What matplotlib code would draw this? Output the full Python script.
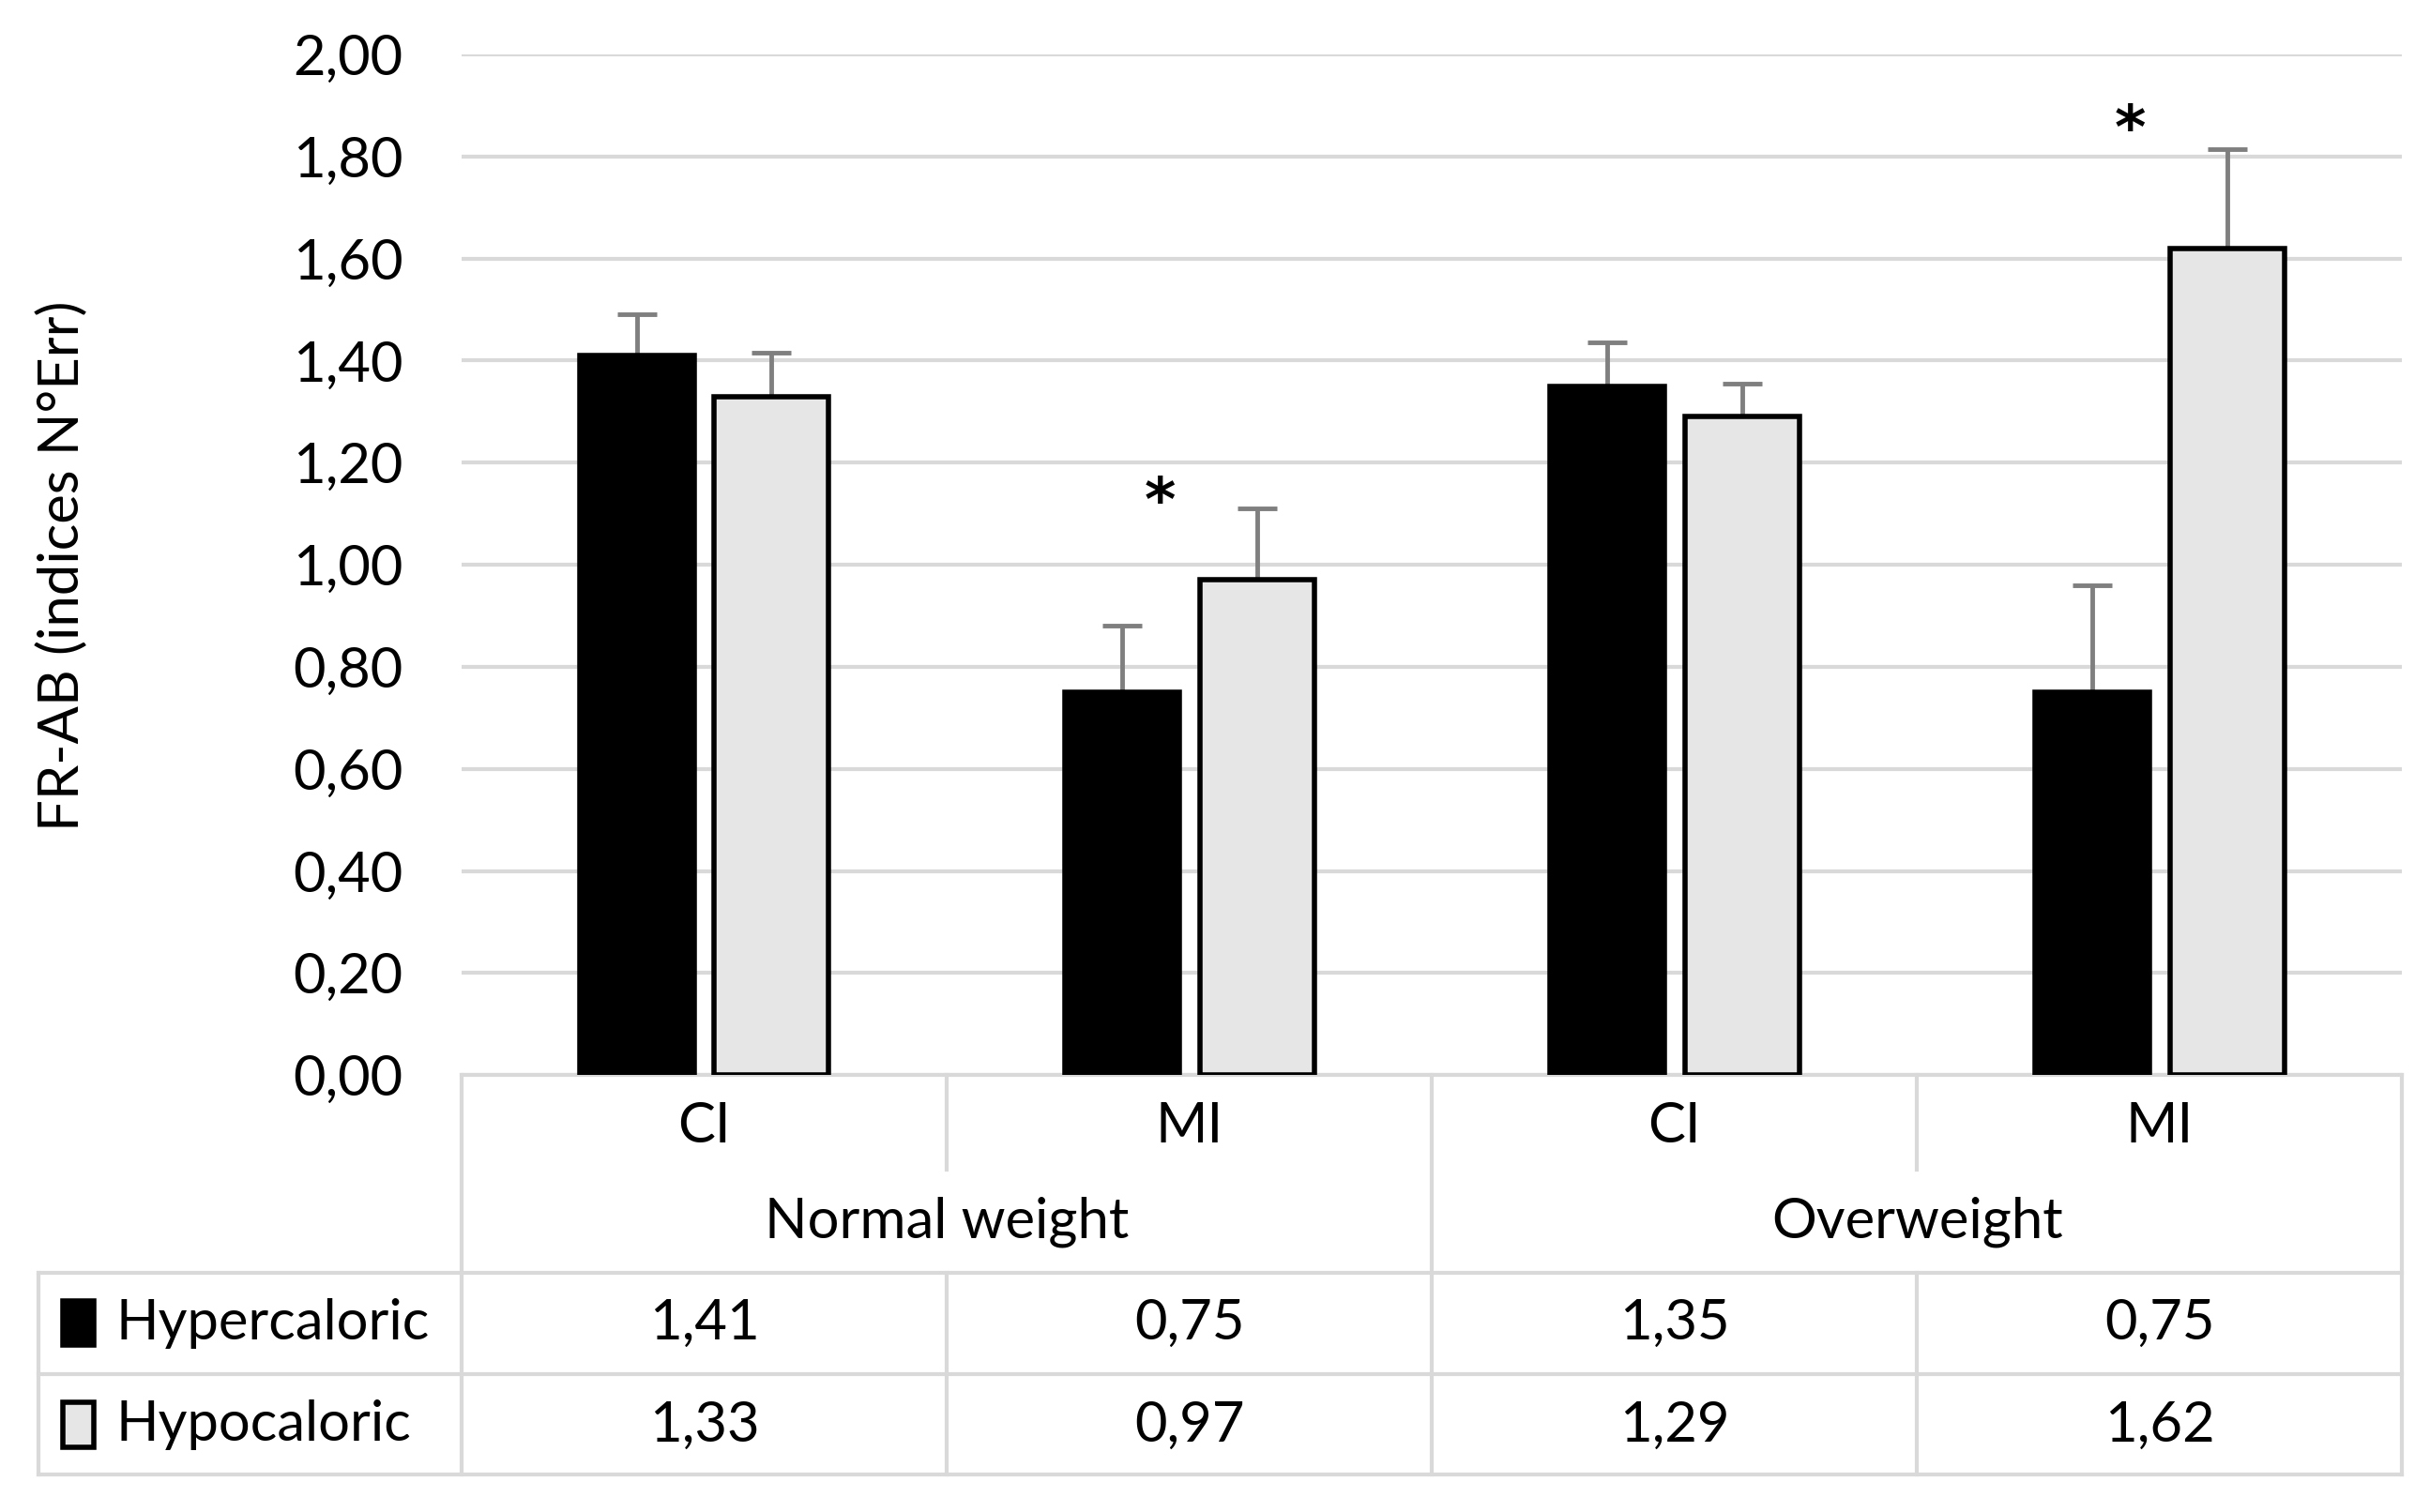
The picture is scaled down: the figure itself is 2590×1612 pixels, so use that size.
import matplotlib
matplotlib.use("Agg")
import matplotlib.pyplot as plt
from matplotlib.lines import Line2D
from matplotlib.patches import Rectangle
import numpy as np

plt.rcParams['font.family'] = ['Lato', 'DejaVu Sans']

# Data
categories = ["CI", "MI", "CI", "MI"]
groups = ["Normal weight", "Overweight"]
series_names = ["Hypercaloric", "Hypocaloric"]
hyper = [1.41, 0.75, 1.35, 0.75]
hypo = [1.33, 0.97, 1.29, 1.62]
hyper_err = [0.08, 0.13, 0.085, 0.21]
hypo_err = [0.085, 0.14, 0.065, 0.195]
star_idx = [1, 3]
star_y = [1.12, 1.85]
y_ticks = [0.0, 0.2, 0.4, 0.6, 0.8, 1.0, 1.2, 1.4, 1.6, 1.8, 2.0]

BLACK = "#000000"
LIGHT = "#e6e6e6"
GRID = "#d9d9d9"
ERR = "#7f7f7f"
FS = 43


def fmt(v):
    return f"{v:.2f}".replace(".", ",")


fig = plt.figure(figsize=(25.9, 16.12), dpi=100)
ax = fig.add_axes([0.190, 0.289, 0.7985, 0.675])

x = np.arange(len(categories))
w = 0.236
off = 0.139

ax.bar(x - off, hyper, w, color=BLACK, edgecolor=BLACK, linewidth=4, zorder=3)
ax.bar(x + off, hypo, w, color=LIGHT, edgecolor=BLACK, linewidth=4, zorder=3)
ax.errorbar(x - off, hyper, yerr=[np.zeros(4), hyper_err], fmt="none",
            ecolor=ERR, elinewidth=3.5, capsize=15, capthick=3.5, zorder=2)
ax.errorbar(x + off, hypo, yerr=[np.zeros(4), hypo_err], fmt="none",
            ecolor=ERR, elinewidth=3.5, capsize=15, capthick=3.5, zorder=2)

for i, ys in zip(star_idx, star_y):
    ax.text(x[i] - 0.06, ys, "*", ha="center", va="center", fontsize=46,
            fontweight="bold", family="DejaVu Sans")

ax.set_xlim(-0.5, len(categories) - 0.5)
ax.set_ylim(0, 2.0)
ax.set_yticks(y_ticks)
ax.set_yticklabels([fmt(v) for v in y_ticks], fontsize=FS)
ax.tick_params(axis="y", length=0, pad=45)
ax.set_xticks([])
for s in ax.spines.values():
    s.set_visible(False)
ax.yaxis.grid(True, color=GRID, linewidth=3, zorder=0)
ax.set_axisbelow(True)

fig.text(0.0255, 0.626, "FR-AB (indices N°Err)", rotation=90, ha="center",
         va="center", fontsize=FS)

# Data table below the chart
tr = ax.get_xaxis_transform()
left = -1.372
r_top, r_cat, r_grp, r_row1, r_row2 = 0.0, -0.0926, -0.194, -0.293, -0.391


def hline(x0, x1, y):
    ax.add_line(Line2D([x0, x1], [y, y], transform=tr, color=GRID, lw=3,
                       clip_on=False, zorder=1))


def vline(xv, y0, y1):
    ax.add_line(Line2D([xv, xv], [y0, y1], transform=tr, color=GRID, lw=3,
                       clip_on=False, zorder=1))


xl, xr = -0.5, len(categories) - 0.5
hline(xl, xr, r_top)
hline(left, xr, r_grp)
hline(left, xr, r_row1)
hline(left, xr, r_row2)
vline(xl, r_top, r_row2)
vline(xr, r_top, r_row2)
vline(left, r_grp, r_row2)
vline(1.5, r_top, r_row2)
vline(0.5, r_top, r_cat)
vline(2.5, r_top, r_cat)
vline(0.5, r_grp, r_row2)
vline(2.5, r_grp, r_row2)

for i, c in enumerate(categories):
    ax.text(x[i], -0.050, c, transform=tr, ha="center", va="center", fontsize=FS)
for g, gname in enumerate(groups):
    ax.text(2 * g + 0.5, -0.144, gname, transform=tr, ha="center", va="center",
            fontsize=FS)
for i in range(len(categories)):
    ax.text(x[i], -0.243, fmt(hyper[i]), transform=tr, ha="center", va="center",
            fontsize=FS)
    ax.text(x[i], -0.343, fmt(hypo[i]), transform=tr, ha="center", va="center",
            fontsize=FS)

for ry, name, fc in [(-0.243, series_names[0], BLACK), (-0.343, series_names[1], LIGHT)]:
    ax.add_patch(Rectangle((-1.322, ry - 0.022), 0.064, 0.044, transform=tr,
                           facecolor=fc, edgecolor=BLACK, lw=4, clip_on=False))
    ax.text(-1.212, ry, name, transform=tr, ha="left", va="center", fontsize=FS)

fig.savefig("out.png", dpi=100, facecolor="white")
